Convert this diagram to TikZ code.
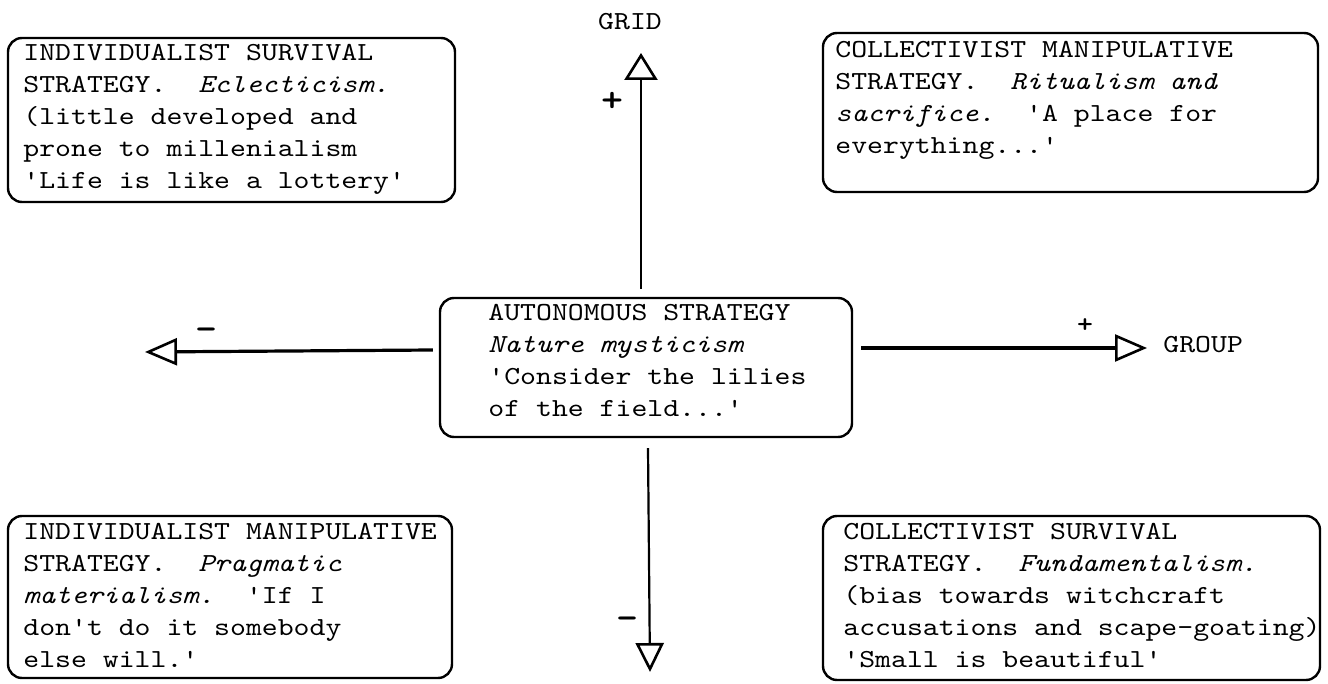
\documentclass[tikz,border=0pt]{standalone}
\usepackage{fontspec}
\setmonofont[FakeStretch=1.165, ItalicFont=lmmono10-italic.otf, BoldFont=lmmonolt10-bold.otf]{lmmono10-regular.otf}
\usetikzlibrary{arrows.meta}
\begin{document}
\begin{tikzpicture}[x=0.5pt,y=-0.5pt,
  box/.style={draw, line width=1.2pt, rounded corners=7pt, inner sep=0pt},
  txt/.style={anchor=north west, inner sep=0pt, align=left,
    font=\ttfamily\fontsize{13pt}{16pt}\selectfont},
  lbl/.style={inner sep=0pt, font=\ttfamily\fontsize{13pt}{16pt}\selectfont},
  sign/.style={inner sep=0pt, font=\ttfamily\bfseries\fontsize{18pt}{18pt}\selectfont},
  haxis/.style={line width=1.6pt},
  vaxis/.style={line width=1.1pt},
  vhead/.style={-{Triangle[open, length=13.5pt, width=16.5pt, line width=1.3pt]}},
  hhead/.style={-{Triangle[open, length=16pt, width=13.5pt, line width=1.3pt]}},
  dhead/.style={-{Triangle[open, length=14.5pt, width=14pt, line width=1.3pt]}}]
\useasboundingbox (0,0) rectangle (1328,684);

% boxes
\node[box, minimum width=223.5pt, minimum height=82pt] (tl) at (231.5,120) {};
\node[box, minimum width=247.5pt, minimum height=79.5pt] (tr) at (1070.5,112.5) {};
\node[box, minimum width=206pt, minimum height=69.5pt] (c) at (646,367.5) {};
\node[box, minimum width=222pt, minimum height=81pt] (bl) at (230,597) {};
\node[box, minimum width=248.5pt, minimum height=82pt] (br) at (1071.5,598) {};

% texts
\node[txt] (tltext) at (23,38) {\strut INDIVIDUALIST SURVIVAL\\
STRATEGY.\ \ \textit{Eclecticism.}\\
(little developed and\\
prone to millenialism\\
'Life is like a lottery'};
\node[txt] (trtext) at (835,35) {\strut COLLECTIVIST MANIPULATIVE\\
STRATEGY.\ \ \textit{Ritualism and}\\
\textit{sacrifice.}\ \ 'A place for\\
everything...'};
\node[txt] (ctext) at (488,298) {\strut AUTONOMOUS STRATEGY\\
\textit{Nature mysticism}\\
'Consider the lilies\\
of the field...'};
\node[txt] (bltext) at (23,517) {\strut INDIVIDUALIST MANIPULATIVE\\
STRATEGY.\ \ \textit{Pragmatic}\\
\textit{materialism.}\ \ 'If I\\
don't do it somebody\\
else will.'};
\node[txt] (brtext) at (843,517) {\strut COLLECTIVIST SURVIVAL\\
STRATEGY.\ \ \textit{Fundamentalism.}\\
(bias towards witchcraft\\
accusations and scape-goating)\\
'Small is beautiful'};

% axis end points
\coordinate (gridtip) at (641,53);
\coordinate (lefttip) at (145,352);
\coordinate (righttip) at (1147,348);
\coordinate (downtip) at (650,672);

% axes
\draw[vaxis, vhead] ([xshift=-2.5pt, yshift=4pt]c.north) -- (gridtip);
\draw[vaxis, dhead] ([xshift=1pt, yshift=-5pt]c.south) -- (downtip);
\draw[haxis, hhead] ([xshift=-3pt]c.west |- 0,350) -- (lefttip);
\draw[haxis, hhead] ([xshift=4pt]c.east |- 0,348) -- (righttip);

% labels
\node[lbl] (grid) at (630,22) {GRID};
\node[lbl, anchor=west] (group) at (1163,345) {GROUP};
\node[sign] (plusv) at (613,102) {+};
\node[sign, font=\ttfamily\bfseries\fontsize{13pt}{13pt}\selectfont] (plush) at (1085,326) {+};
\node[sign] (minush) at (207,334) {-};
\node[sign] (minusv) at (628,623) {-};
\end{tikzpicture}
\end{document}
